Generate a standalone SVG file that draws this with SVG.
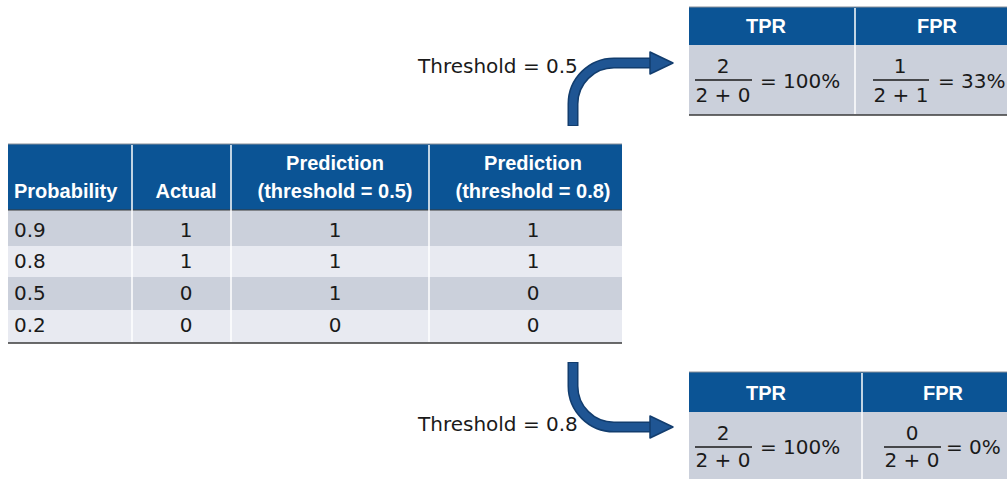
<svg xmlns="http://www.w3.org/2000/svg" width="1007" height="479" viewBox="0 0 1007 479">
<defs>
<style>
.hd{fill:#0b5495}
.rd{fill:#cbd0db}
.rl{fill:#e8eaf1}
.div{stroke:#ffffff;stroke-width:1.5}
.top{stroke:#8a8f99;stroke-width:1.2}
.bot{stroke:#3a3a3a;stroke-width:1.6}
.ht{font-family:"Liberation Sans",Arial,sans-serif;font-weight:bold;font-size:20px;fill:#ffffff}
.ct{font-family:"DejaVu Sans",Verdana,sans-serif;font-size:20px;fill:#1a1a1a}
.fl{stroke:#1a1a1a;stroke-width:1.3}
.arO{fill:none;stroke:#123d6e;stroke-width:11}
.arI{fill:none;stroke:#1f5593;stroke-width:8}
.ahd{fill:#1f5593;stroke:#123d6e;stroke-width:1.5;stroke-linejoin:round}
</style>
</defs>
<rect width="1007" height="479" fill="#ffffff"/>

<g id="main-table">
<rect class="hd" x="8" y="144" width="614" height="66"/>
<rect class="rd" x="8" y="210" width="614" height="36"/>
<rect class="rl" x="8" y="246" width="614" height="31"/>
<rect class="rd" x="8" y="277" width="614" height="33"/>
<rect class="rl" x="8" y="310" width="614" height="33"/>
<line class="top" x1="8" y1="144" x2="622" y2="144"/>
<line class="bot" x1="8" y1="210" x2="622" y2="210" style="stroke-width:1"/>
<line class="div" x1="132" y1="145" x2="132" y2="342"/>
<line class="div" x1="231" y1="145" x2="231" y2="342"/>
<line class="div" x1="429" y1="145" x2="429" y2="342"/>
<line class="bot" x1="8" y1="343" x2="622" y2="343"/>
<text class="ht" x="14" y="198">Probability</text>
<text class="ht" x="186" y="198" text-anchor="middle">Actual</text>
<text class="ht" x="335" y="170" text-anchor="middle">Prediction</text>
<text class="ht" x="335" y="198" text-anchor="middle">(threshold = 0.5)</text>
<text class="ht" x="533" y="170" text-anchor="middle">Prediction</text>
<text class="ht" x="533" y="198" text-anchor="middle">(threshold = 0.8)</text>
<text class="ct" x="14" y="237">0.9</text>
<text class="ct" x="14" y="268">0.8</text>
<text class="ct" x="14" y="300">0.5</text>
<text class="ct" x="14" y="332">0.2</text>
<text class="ct" x="186" y="237" text-anchor="middle">1</text>
<text class="ct" x="186" y="268" text-anchor="middle">1</text>
<text class="ct" x="186" y="300" text-anchor="middle">0</text>
<text class="ct" x="186" y="332" text-anchor="middle">0</text>
<text class="ct" x="335" y="237" text-anchor="middle">1</text>
<text class="ct" x="335" y="268" text-anchor="middle">1</text>
<text class="ct" x="335" y="300" text-anchor="middle">1</text>
<text class="ct" x="335" y="332" text-anchor="middle">0</text>
<text class="ct" x="533" y="237" text-anchor="middle">1</text>
<text class="ct" x="533" y="268" text-anchor="middle">1</text>
<text class="ct" x="533" y="300" text-anchor="middle">0</text>
<text class="ct" x="533" y="332" text-anchor="middle">0</text>
</g>

<g id="rates-05">
<rect class="hd" x="689" y="7" width="318" height="38"/>
<rect class="rd" x="689" y="45" width="318" height="70"/>
<line class="top" x1="689" y1="7" x2="1007" y2="7"/>
<line class="div" x1="855" y1="8" x2="855" y2="114"/>
<line class="bot" x1="689" y1="115" x2="1007" y2="115"/>
<text class="ht" x="766" y="33" text-anchor="middle">TPR</text>
<text class="ht" x="937" y="33" text-anchor="middle">FPR</text>
<text class="ct" x="723" y="73" text-anchor="middle">2</text>
<line class="fl" x1="695" y1="80" x2="752" y2="80"/>
<text class="ct" x="723" y="102" text-anchor="middle">2 + 0</text>
<text class="ct" x="760" y="88">= 100%</text>
<text class="ct" x="900" y="73" text-anchor="middle">1</text>
<line class="fl" x1="873" y1="80" x2="929" y2="80"/>
<text class="ct" x="901" y="102" text-anchor="middle">2 + 1</text>
<text class="ct" x="938" y="88">= 33%</text>
</g>

<g id="rates-08">
<rect class="hd" x="689" y="372" width="318" height="40"/>
<rect class="rd" x="689" y="412" width="318" height="67"/>
<line class="top" x1="689" y1="372" x2="1007" y2="372"/>
<line class="div" x1="862" y1="373" x2="862" y2="479"/>
<text class="ht" x="766" y="400" text-anchor="middle">TPR</text>
<text class="ht" x="943" y="400" text-anchor="middle">FPR</text>
<text class="ct" x="723" y="440" text-anchor="middle">2</text>
<line class="fl" x1="695" y1="447" x2="752" y2="447"/>
<text class="ct" x="723" y="467" text-anchor="middle">2 + 0</text>
<text class="ct" x="760" y="454">= 100%</text>
<text class="ct" x="912" y="440" text-anchor="middle">0</text>
<line class="fl" x1="884" y1="447" x2="941" y2="447"/>
<text class="ct" x="912" y="467" text-anchor="middle">2 + 0</text>
<text class="ct" x="946" y="454">= 0%</text>
</g>

<g id="connectors">
<text class="ct" x="418" y="73">Threshold = 0.5</text>
<path class="arO" d="M573,126 V104 A41,41 0 0 1 614,63 H652"/>
<path class="arI" d="M573,125 V104 A41,41 0 0 1 614,63 H652"/>
<polygon class="ahd" points="650,52 673,63 650,74"/>
<text class="ct" x="418" y="431">Threshold = 0.8</text>
<path class="arO" d="M573,362 V386 A41,41 0 0 0 614,427 H652"/>
<path class="arI" d="M573,363 V386 A41,41 0 0 0 614,427 H652"/>
<polygon class="ahd" points="650,416 673,427 650,438"/>
</g>
</svg>
